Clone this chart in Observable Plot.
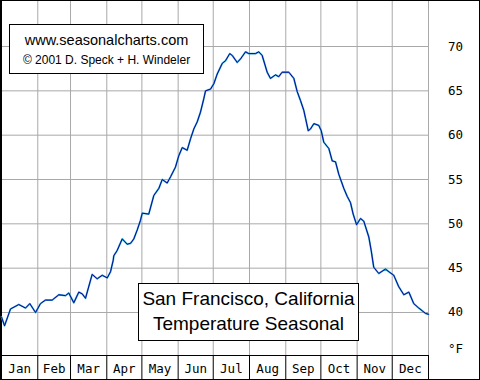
<!DOCTYPE html>
<html><head><meta charset="utf-8">
<script src="https://cdn.jsdelivr.net/npm/d3@7"></script>
<script src="https://cdn.jsdelivr.net/npm/@observablehq/plot@0.6"></script>
<style>body{margin:0;background:#fff}#chart svg{display:block}</style>
</head><body><div id="chart"></div>
<script>
// Day of year (0–365) and temperature (°F)
const days = [0,2.6,7.7,14.8,20.5,24.2,29.1,33.3,37.6,43.3,
  49.0,54.7,57.5,61.8,66.1,69.0,71.8,77.5,81.8,86.1,
  90.4,93.2,95.5,96.0,98.9,103.2,107.4,110.3,113.1,116.0,
  118.8,120.3,125.9,130.2,134.5,137.4,141.6,144.5,148.7,151.6,
  154.5,158.7,161.6,164.4,167.3,170.1,172.9,174.4,178.7,181.5,
  184.4,188.7,191.5,195.1,197.2,201.5,204.3,208.6,211.4,217.1,
  219.9,222.8,227.1,229.9,234.2,237.0,239.9,245.6,249.9,252.8,
  255.6,258.4,259.9,262.2,264.1,267.0,271.2,273.3,275.5,279.8,
  282.7,285.5,288.3,292.6,295.5,298.3,300.6,303.5,306.9,309.7,
  314.0,316.0,318.2,322.5,328.2,331.1,335.3,339.6,343.9,348.2,
  352.4,356.7,359.6,362.4,365];
const temps = [39.5,38.5,40.4,40.9,40.5,41.0,40.0,41.0,41.4,41.4,
  42.0,41.9,42.2,41.1,42.3,42.1,41.6,44.3,43.8,44.2,
  43.9,44.6,45.9,46.4,47.0,48.3,47.7,47.8,48.3,49.3,
  50.4,51.2,51.1,53.2,54.0,55.0,54.6,55.3,56.4,57.7,
  58.6,58.3,59.6,60.7,61.5,62.6,64.1,65.0,65.2,65.8,
  66.9,68.1,68.4,69.2,69.0,68.2,68.6,69.4,69.2,69.2,
  69.4,69.0,67.1,66.4,66.8,66.6,67.1,67.1,66.4,64.9,
  63.9,62.8,61.9,60.5,60.7,61.3,61.1,60.5,59.2,58.5,
  57.1,57.0,55.6,54.0,53.1,52.4,51.1,49.9,50.6,50.3,
  48.5,47.0,45.1,44.4,44.9,44.6,44.2,42.9,42.0,42.3,
  41.0,40.5,40.2,39.9,39.8];
const monthNames = ["Jan","Feb","Mar","Apr","May","Jun","Jul","Aug","Sep","Oct","Nov","Dec"];
const monthStarts = [0,31,59,90,120,151,181,212,243,273,304,334,365];
const yTicks = [40,45,50,55,60,65,70];
const yDomain = [35.15, 75.19];
const unitLabel = "°F";
const creditLines = ["www.seasonalcharts.com", "© 2001 D. Speck + H. Windeler"];
const titleLines = ["San Francisco, California", "Temperature Seasonal"];

const series = days.map((d, i) => ({day: d, temp: temps[i]}));
const months = monthNames.map((m, i) => ({name: m, mid: (monthStarts[i] + monthStarts[i + 1]) / 2}));

const sans = "Liberation Sans, Arial, sans-serif";
const mono = "DejaVu Sans Mono, monospace";
const grid = "#a9a9a9";

const chart = Plot.plot({
  width: 480, height: 380,
  marginLeft: 1, marginRight: 52, marginTop: 0, marginBottom: 25,
  style: {background: "#fff", overflow: "visible"},
  x: {domain: [0, 365], axis: null},
  y: {domain: yDomain, axis: null},
  marks: [
    Plot.ruleX(monthStarts, {stroke: grid}),
    Plot.ruleY(yTicks, {stroke: grid}),
    Plot.ruleX(monthStarts, {stroke: "black", insetTop: 355, insetBottom: -24}),
    Plot.ruleY([yDomain[0]], {stroke: "black"}),
    Plot.ruleX([0], {stroke: "black"}),
    Plot.frame({stroke: "black", insetLeft: -1, insetRight: -51, insetBottom: -24}),
    // credit box
    Plot.frame({fill: "white", stroke: "black", insetLeft: 8, insetRight: 225, insetTop: 24, insetBottom: 282}),
    Plot.text([creditLines[0]], {frameAnchor: "top-left", dx: 105, dy: 44, textAnchor: "middle", lineAnchor: "bottom", fontFamily: sans, fontSize: 14.5, fill: "black"}),
    Plot.text([creditLines[1]], {frameAnchor: "top-left", dx: 105, dy: 63, textAnchor: "middle", lineAnchor: "bottom", fontFamily: sans, fontSize: 12, fill: "black"}),
    // title box
    Plot.frame({fill: "white", stroke: "black", insetLeft: 137, insetRight: 70, insetTop: 283, insetBottom: 15}),
    Plot.text([titleLines[0]], {frameAnchor: "top-left", dx: 247, dy: 304, textAnchor: "middle", lineAnchor: "bottom", fontFamily: sans, fontSize: 19, fill: "black"}),
    Plot.text([titleLines[1]], {frameAnchor: "top-left", dx: 247, dy: 329, textAnchor: "middle", lineAnchor: "bottom", fontFamily: sans, fontSize: 19, fill: "black"}),
    // data line
    Plot.line(series, {x: "day", y: "temp", stroke: "#3fa8d8", strokeWidth: 1.8}),
    Plot.line(series, {x: "day", y: "temp", stroke: "#000f96", strokeWidth: 1.0}),
    // right-side tick labels
    Plot.text(yTicks, {y: d => d, text: d => String(d), frameAnchor: "right", dx: 27, textAnchor: "middle", lineAnchor: "middle", fontFamily: mono, fontSize: 12.5, fill: "black"}),
    Plot.text([unitLabel], {frameAnchor: "bottom-right", dx: 27, dy: -3, textAnchor: "middle", lineAnchor: "bottom", fontFamily: mono, fontSize: 12.5, fill: "black"}),
    // month labels
    Plot.text(months, {x: "mid", text: "name", frameAnchor: "bottom", dy: 17, lineAnchor: "bottom", textAnchor: "middle", fontFamily: mono, fontSize: 12.5, fill: "black"})
  ]
});
document.getElementById("chart").appendChild(chart);
</script>
</body></html>
